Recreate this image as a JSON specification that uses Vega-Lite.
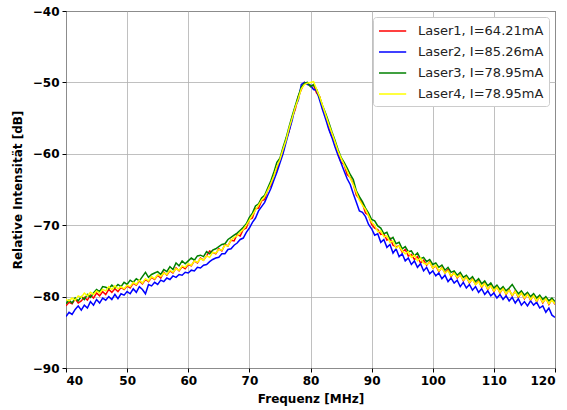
{
"$schema": "https://vega.github.io/schema/vega-lite/v6.json",
"width": 489, "height": 357,
"autosize": {"type": "none"},
"padding": {"left": 66, "top": 11, "right": 12, "bottom": 42},
"background": "white",
"config": {
  "font": "DejaVu Sans",
  "view": {"stroke": "black", "strokeWidth": 1},
  "axis": {"domain": false, "grid": true, "gridColor": "#b0b0b0", "gridWidth": 0.8, "tickColor": "black", "tickSize": 4, "labelFont": "DejaVu Sans", "labelFontWeight": "bold", "labelFontSize": 12, "labelColor": "black", "titleFont": "DejaVu Sans", "titleFontWeight": "bold", "titleFontSize": 12, "titleColor": "black"}
},
"data": {"values": [
{"f":40.0,"L1":-81.3,"L2":-82.8,"L3":-81.0,"L4":-80.4},
{"f":40.5,"L1":-80.8,"L2":-82.2,"L3":-80.5,"L4":-80.6},
{"f":41.0,"L1":-81.0,"L2":-82.5,"L3":-80.9,"L4":-80.2},
{"f":41.5,"L1":-80.3,"L2":-81.8,"L3":-80.2,"L4":-80.5},
{"f":42.0,"L1":-80.9,"L2":-81.3,"L3":-80.6,"L4":-79.9},
{"f":42.5,"L1":-80.6,"L2":-81.9,"L3":-80.0,"L4":-80.1},
{"f":43.0,"L1":-80.1,"L2":-81.2,"L3":-80.4,"L4":-79.5},
{"f":43.5,"L1":-80.5,"L2":-81.6,"L3":-79.7,"L4":-79.9},
{"f":44.0,"L1":-79.8,"L2":-80.7,"L3":-80.1,"L4":-79.4},
{"f":44.5,"L1":-80.2,"L2":-81.2,"L3":-79.5,"L4":-79.7},
{"f":45.0,"L1":-79.5,"L2":-80.4,"L3":-79.0,"L4":-79.2},
{"f":45.5,"L1":-79.9,"L2":-80.9,"L3":-79.3,"L4":-79.5},
{"f":46.0,"L1":-79.3,"L2":-80.2,"L3":-78.6,"L4":-79.0},
{"f":46.5,"L1":-79.7,"L2":-80.5,"L3":-78.7,"L4":-79.2},
{"f":47.0,"L1":-79.0,"L2":-80.0,"L3":-78.9,"L4":-78.6},
{"f":47.5,"L1":-79.4,"L2":-80.4,"L3":-78.4,"L4":-79.0},
{"f":48.0,"L1":-78.9,"L2":-79.7,"L3":-78.8,"L4":-78.5},
{"f":48.5,"L1":-79.3,"L2":-80.3,"L3":-78.3,"L4":-78.9},
{"f":49.0,"L1":-78.7,"L2":-79.6,"L3":-78.6,"L4":-78.6},
{"f":49.5,"L1":-79.0,"L2":-79.8,"L3":-78.0,"L4":-78.9},
{"f":50.0,"L1":-78.5,"L2":-79.3,"L3":-78.3,"L4":-78.4},
{"f":50.5,"L1":-78.8,"L2":-79.6,"L3":-77.7,"L4":-78.6},
{"f":51.0,"L1":-78.1,"L2":-78.9,"L3":-78.0,"L4":-78.0},
{"f":51.5,"L1":-78.4,"L2":-79.4,"L3":-77.5,"L4":-78.3},
{"f":52.0,"L1":-77.8,"L2":-78.6,"L3":-77.8,"L4":-77.7},
{"f":52.5,"L1":-78.2,"L2":-79.0,"L3":-77.2,"L4":-78.1},
{"f":53.0,"L1":-77.6,"L2":-79.6,"L3":-76.6,"L4":-77.5},
{"f":53.5,"L1":-77.9,"L2":-78.3,"L3":-77.3,"L4":-77.8},
{"f":54.0,"L1":-77.3,"L2":-78.5,"L3":-76.9,"L4":-77.2},
{"f":54.5,"L1":-77.6,"L2":-78.0,"L3":-76.7,"L4":-77.5},
{"f":55.0,"L1":-77.0,"L2":-78.3,"L3":-76.5,"L4":-76.9},
{"f":55.5,"L1":-77.4,"L2":-77.7,"L3":-76.9,"L4":-77.2},
{"f":56.0,"L1":-76.6,"L2":-77.9,"L3":-76.2,"L4":-76.7},
{"f":56.5,"L1":-77.0,"L2":-77.4,"L3":-76.5,"L4":-76.9},
{"f":57.0,"L1":-76.4,"L2":-77.6,"L3":-75.8,"L4":-76.3},
{"f":57.5,"L1":-76.7,"L2":-77.1,"L3":-76.2,"L4":-76.6},
{"f":58.0,"L1":-76.0,"L2":-77.3,"L3":-75.3,"L4":-76.1},
{"f":58.5,"L1":-76.4,"L2":-76.9,"L3":-75.7,"L4":-76.3},
{"f":59.0,"L1":-75.8,"L2":-77.0,"L3":-75.0,"L4":-75.7},
{"f":59.5,"L1":-76.1,"L2":-76.6,"L3":-75.4,"L4":-75.9},
{"f":60.0,"L1":-75.5,"L2":-76.7,"L3":-75.0,"L4":-75.4},
{"f":60.5,"L1":-75.7,"L2":-76.3,"L3":-74.6,"L4":-75.6},
{"f":61.0,"L1":-75.0,"L2":-76.4,"L3":-74.9,"L4":-75.0},
{"f":61.5,"L1":-75.3,"L2":-75.9,"L3":-74.3,"L4":-75.2},
{"f":62.0,"L1":-74.6,"L2":-76.0,"L3":-74.2,"L4":-74.7},
{"f":62.5,"L1":-74.9,"L2":-75.6,"L3":-74.4,"L4":-74.9},
{"f":63.0,"L1":-74.3,"L2":-75.5,"L3":-73.7,"L4":-74.3},
{"f":63.5,"L1":-73.6,"L2":-75.1,"L3":-74.0,"L4":-74.5},
{"f":64.0,"L1":-73.8,"L2":-74.8,"L3":-73.5,"L4":-73.8},
{"f":64.5,"L1":-74.0,"L2":-74.6,"L3":-73.3,"L4":-73.9},
{"f":65.0,"L1":-73.3,"L2":-74.5,"L3":-73.0,"L4":-73.4},
{"f":65.5,"L1":-73.6,"L2":-74.0,"L3":-72.7,"L4":-73.5},
{"f":66.0,"L1":-72.7,"L2":-74.0,"L3":-72.6,"L4":-72.8},
{"f":66.5,"L1":-72.9,"L2":-73.4,"L3":-72.0,"L4":-72.9},
{"f":67.0,"L1":-72.1,"L2":-73.3,"L3":-71.7,"L4":-72.1},
{"f":67.5,"L1":-72.2,"L2":-72.8,"L3":-71.4,"L4":-71.7},
{"f":68.0,"L1":-71.3,"L2":-72.5,"L3":-71.1,"L4":-71.5},
{"f":68.5,"L1":-71.5,"L2":-72.0,"L3":-70.7,"L4":-71.0},
{"f":69.0,"L1":-70.6,"L2":-71.8,"L3":-70.3,"L4":-70.6},
{"f":69.5,"L1":-70.4,"L2":-71.0,"L3":-69.8,"L4":-70.0},
{"f":70.0,"L1":-69.2,"L2":-70.4,"L3":-68.9,"L4":-69.3},
{"f":70.5,"L1":-69.0,"L2":-69.6,"L3":-68.3,"L4":-68.6},
{"f":71.0,"L1":-67.7,"L2":-69.0,"L3":-67.3,"L4":-67.9},
{"f":71.5,"L1":-67.6,"L2":-68.0,"L3":-67.0,"L4":-67.2},
{"f":72.0,"L1":-66.6,"L2":-67.4,"L3":-66.2,"L4":-66.5},
{"f":72.5,"L1":-66.4,"L2":-66.8,"L3":-65.8,"L4":-66.0},
{"f":73.0,"L1":-65.0,"L2":-65.8,"L3":-64.8,"L4":-65.1},
{"f":73.5,"L1":-64.5,"L2":-64.9,"L3":-63.8,"L4":-64.2},
{"f":74.0,"L1":-63.0,"L2":-63.7,"L3":-62.6,"L4":-63.1},
{"f":74.5,"L1":-62.2,"L2":-62.6,"L3":-61.2,"L4":-61.8},
{"f":75.0,"L1":-60.7,"L2":-61.3,"L3":-60.6,"L4":-60.8},
{"f":75.5,"L1":-59.8,"L2":-60.0,"L3":-59.1,"L4":-59.4},
{"f":76.0,"L1":-58.0,"L2":-58.4,"L3":-57.8,"L4":-58.1},
{"f":76.5,"L1":-56.8,"L2":-56.8,"L3":-56.2,"L4":-56.4},
{"f":77.0,"L1":-54.9,"L2":-55.3,"L3":-54.7,"L4":-55.0},
{"f":77.5,"L1":-53.8,"L2":-53.4,"L3":-53.3,"L4":-53.5},
{"f":78.0,"L1":-52.0,"L2":-52.5,"L3":-51.9,"L4":-52.3},
{"f":78.5,"L1":-51.0,"L2":-50.3,"L3":-50.7,"L4":-50.9},
{"f":79.0,"L1":-50.0,"L2":-50.0,"L3":-50.1,"L4":-50.3},
{"f":79.5,"L1":-50.2,"L2":-50.3,"L3":-50.0,"L4":-50.1},
{"f":80.0,"L1":-50.5,"L2":-50.4,"L3":-50.6,"L4":-50.0},
{"f":80.5,"L1":-50.4,"L2":-51.0,"L3":-50.3,"L4":-49.9},
{"f":81.0,"L1":-51.5,"L2":-51.1,"L3":-51.0,"L4":-51.0},
{"f":81.5,"L1":-52.0,"L2":-52.5,"L3":-52.1,"L4":-52.0},
{"f":82.0,"L1":-53.8,"L2":-53.9,"L3":-53.3,"L4":-53.3},
{"f":82.5,"L1":-54.6,"L2":-55.2,"L3":-54.4,"L4":-54.6},
{"f":83.0,"L1":-56.4,"L2":-56.6,"L3":-55.6,"L4":-55.9},
{"f":83.5,"L1":-57.6,"L2":-57.7,"L3":-56.9,"L4":-57.1},
{"f":84.0,"L1":-58.3,"L2":-59.0,"L3":-58.1,"L4":-58.3},
{"f":84.5,"L1":-60.0,"L2":-60.2,"L3":-59.4,"L4":-59.6},
{"f":85.0,"L1":-61.2,"L2":-61.3,"L3":-60.5,"L4":-60.6},
{"f":85.5,"L1":-61.5,"L2":-62.4,"L3":-61.2,"L4":-61.5},
{"f":86.0,"L1":-62.9,"L2":-63.5,"L3":-62.0,"L4":-62.4},
{"f":86.5,"L1":-63.3,"L2":-64.3,"L3":-62.9,"L4":-63.4},
{"f":87.0,"L1":-64.2,"L2":-65.6,"L3":-63.6,"L4":-64.3},
{"f":87.5,"L1":-65.8,"L2":-66.8,"L3":-65.2,"L4":-65.4},
{"f":88.0,"L1":-66.3,"L2":-68.0,"L3":-66.0,"L4":-66.5},
{"f":88.5,"L1":-67.0,"L2":-68.2,"L3":-66.7,"L4":-67.2},
{"f":89.0,"L1":-68.3,"L2":-68.8,"L3":-67.6,"L4":-67.8},
{"f":89.5,"L1":-68.6,"L2":-69.9,"L3":-68.3,"L4":-68.7},
{"f":90.0,"L1":-69.9,"L2":-70.5,"L3":-69.2,"L4":-69.6},
{"f":90.5,"L1":-70.4,"L2":-71.4,"L3":-69.4,"L4":-70.0},
{"f":91.0,"L1":-70.6,"L2":-71.2,"L3":-70.1,"L4":-70.9},
{"f":91.5,"L1":-71.3,"L2":-72.4,"L3":-70.4,"L4":-70.8},
{"f":92.0,"L1":-71.2,"L2":-72.0,"L3":-71.2,"L4":-71.6},
{"f":92.5,"L1":-72.1,"L2":-73.1,"L3":-71.0,"L4":-71.5},
{"f":93.0,"L1":-71.8,"L2":-72.7,"L3":-72.0,"L4":-72.4},
{"f":93.5,"L1":-72.8,"L2":-73.9,"L3":-71.7,"L4":-72.2},
{"f":94.0,"L1":-73.0,"L2":-73.3,"L3":-72.6,"L4":-73.2},
{"f":94.5,"L1":-72.9,"L2":-74.4,"L3":-72.4,"L4":-72.9},
{"f":95.0,"L1":-73.8,"L2":-74.0,"L3":-73.3,"L4":-73.6},
{"f":95.5,"L1":-73.4,"L2":-75.0,"L3":-73.0,"L4":-74.0},
{"f":96.0,"L1":-74.3,"L2":-74.6,"L3":-73.7,"L4":-73.7},
{"f":96.5,"L1":-74.1,"L2":-75.5,"L3":-73.6,"L4":-74.5},
{"f":97.0,"L1":-74.8,"L2":-75.0,"L3":-74.3,"L4":-74.2},
{"f":97.5,"L1":-74.4,"L2":-75.9,"L3":-73.9,"L4":-75.0},
{"f":98.0,"L1":-75.3,"L2":-75.4,"L3":-74.7,"L4":-74.6},
{"f":98.5,"L1":-74.9,"L2":-76.4,"L3":-74.5,"L4":-75.3},
{"f":99.0,"L1":-75.6,"L2":-75.9,"L3":-75.1,"L4":-75.5},
{"f":99.5,"L1":-75.1,"L2":-76.8,"L3":-74.8,"L4":-75.2},
{"f":100.0,"L1":-76.0,"L2":-76.4,"L3":-75.5,"L4":-76.0},
{"f":100.5,"L1":-75.7,"L2":-77.1,"L3":-75.3,"L4":-75.6},
{"f":101.0,"L1":-76.5,"L2":-76.7,"L3":-75.9,"L4":-76.4},
{"f":101.5,"L1":-75.9,"L2":-77.5,"L3":-75.6,"L4":-76.0},
{"f":102.0,"L1":-76.7,"L2":-77.0,"L3":-76.3,"L4":-76.7},
{"f":102.5,"L1":-76.2,"L2":-77.9,"L3":-75.9,"L4":-76.4},
{"f":103.0,"L1":-77.2,"L2":-77.4,"L3":-76.6,"L4":-77.1},
{"f":103.5,"L1":-76.6,"L2":-78.1,"L3":-76.4,"L4":-76.7},
{"f":104.0,"L1":-77.4,"L2":-77.7,"L3":-77.0,"L4":-77.3},
{"f":104.5,"L1":-76.9,"L2":-78.6,"L3":-76.6,"L4":-77.0},
{"f":105.0,"L1":-77.8,"L2":-78.0,"L3":-77.3,"L4":-77.7},
{"f":105.5,"L1":-77.2,"L2":-78.8,"L3":-77.0,"L4":-77.3},
{"f":106.0,"L1":-78.1,"L2":-78.3,"L3":-77.6,"L4":-78.0},
{"f":106.5,"L1":-77.5,"L2":-79.1,"L3":-77.2,"L4":-77.6},
{"f":107.0,"L1":-78.3,"L2":-78.6,"L3":-77.9,"L4":-78.3},
{"f":107.5,"L1":-77.8,"L2":-79.4,"L3":-77.5,"L4":-77.9},
{"f":108.0,"L1":-78.7,"L2":-78.9,"L3":-78.2,"L4":-78.6},
{"f":108.5,"L1":-78.1,"L2":-79.7,"L3":-77.8,"L4":-78.2},
{"f":109.0,"L1":-79.0,"L2":-79.2,"L3":-78.5,"L4":-78.9},
{"f":109.5,"L1":-78.4,"L2":-79.9,"L3":-78.1,"L4":-78.5},
{"f":110.0,"L1":-79.3,"L2":-79.5,"L3":-78.8,"L4":-79.2},
{"f":110.5,"L1":-78.6,"L2":-80.2,"L3":-78.4,"L4":-78.7},
{"f":111.0,"L1":-79.5,"L2":-79.7,"L3":-79.0,"L4":-79.4},
{"f":111.5,"L1":-78.8,"L2":-80.4,"L3":-78.6,"L4":-78.9},
{"f":112.0,"L1":-79.7,"L2":-79.9,"L3":-79.2,"L4":-79.6},
{"f":112.5,"L1":-79.0,"L2":-80.6,"L3":-78.8,"L4":-79.1},
{"f":113.0,"L1":-79.9,"L2":-80.1,"L3":-78.3,"L4":-79.8},
{"f":113.5,"L1":-79.2,"L2":-80.9,"L3":-79.0,"L4":-79.3},
{"f":114.0,"L1":-80.1,"L2":-80.3,"L3":-79.6,"L4":-80.0},
{"f":114.5,"L1":-79.4,"L2":-81.2,"L3":-79.2,"L4":-79.5},
{"f":115.0,"L1":-80.3,"L2":-80.7,"L3":-79.8,"L4":-80.2},
{"f":115.5,"L1":-79.6,"L2":-81.3,"L3":-79.4,"L4":-79.7},
{"f":116.0,"L1":-80.5,"L2":-80.6,"L3":-80.0,"L4":-80.4},
{"f":116.5,"L1":-79.8,"L2":-81.2,"L3":-79.6,"L4":-79.9},
{"f":117.0,"L1":-80.7,"L2":-80.8,"L3":-80.2,"L4":-80.6},
{"f":117.5,"L1":-80.0,"L2":-81.6,"L3":-79.8,"L4":-80.1},
{"f":118.0,"L1":-80.9,"L2":-81.3,"L3":-80.4,"L4":-80.8},
{"f":118.5,"L1":-80.2,"L2":-82.2,"L3":-80.0,"L4":-80.3},
{"f":119.0,"L1":-81.1,"L2":-81.6,"L3":-80.6,"L4":-81.0},
{"f":119.5,"L1":-80.4,"L2":-82.6,"L3":-80.2,"L4":-80.5},
{"f":120.0,"L1":-81.1,"L2":-82.9,"L3":-80.7,"L4":-81.0}
]},
"transform": [{"fold": ["L1","L2","L3","L4"], "as": ["series","dB"]}],
"mark": {"type": "line", "strokeWidth": 1.5, "clip": true},
"encoding": {
  "x": {"field": "f", "type": "quantitative", "title": "Frequenz [MHz]",
        "scale": {"domain": [40,120], "nice": false, "zero": false},
        "axis": {"values": [40,50,60,70,80,90,100,110,120], "labelPadding": 3, "titlePadding": 7}},
  "y": {"field": "dB", "type": "quantitative", "title": "Relative Intensität [dB]",
        "scale": {"domain": [-90,-40], "nice": false, "zero": false},
        "axis": {"values": [-90,-80,-70,-60,-50,-40], "labelPadding": 3, "titlePadding": 8}},
  "color": {"field": "series", "type": "nominal",
    "scale": {"domain": ["L1","L2","L3","L4"], "range": ["#ff0000","#0000ff","#008000","#ffff00"]},
    "legend": {"title": null, "orient": "top-right", "offset": 6,
      "labelExpr": "{'L1':'Laser1, I=64.21mA','L2':'Laser2, I=85.26mA','L3':'Laser3, I=78.95mA','L4':'Laser4, I=78.95mA'}[datum.label]",
      "symbolType": "M-1,0H2.4", "symbolSize": 256, "symbolStrokeWidth": 1.5,
      "labelFont": "DejaVu Sans", "labelFontSize": 13, "labelColor": "#222222", "labelOffset": 22,
      "rowPadding": 5, "padding": 5, "fillColor": "white", "strokeColor": "#cccccc", "cornerRadius": 3}}
}
}
